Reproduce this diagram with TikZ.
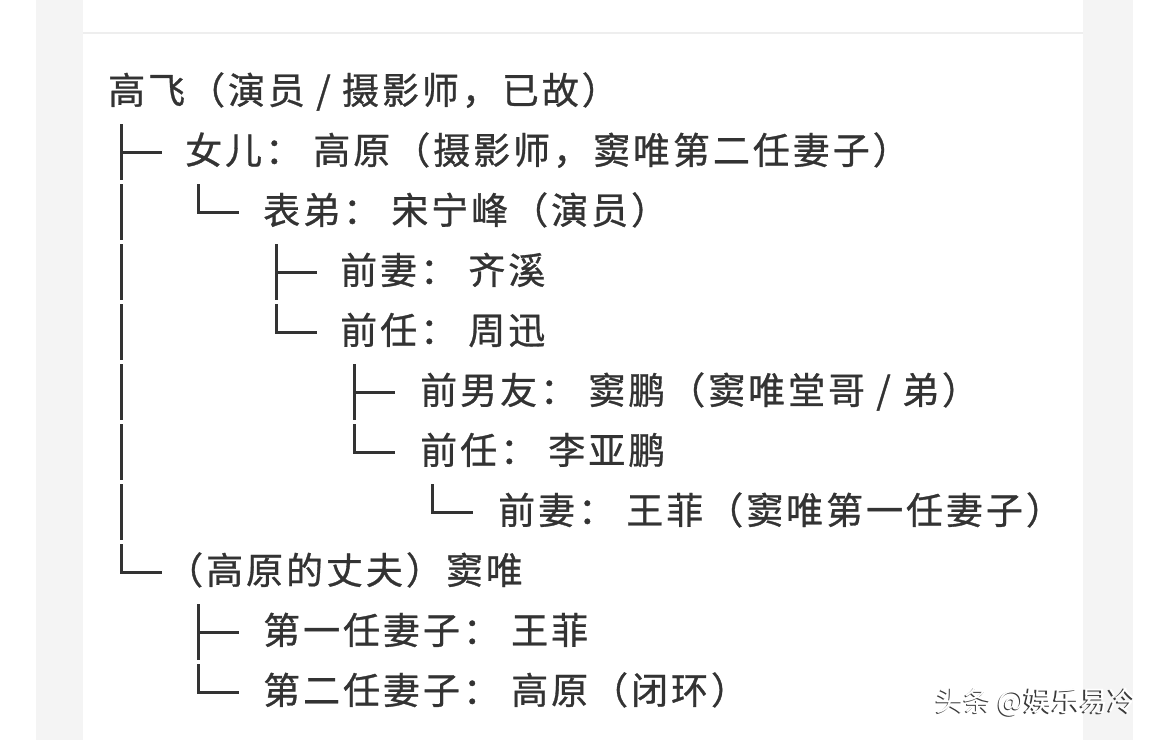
\documentclass[tikz,border=0pt]{standalone}
\usepackage{fontspec}
\newfontfamily\cjk[LetterSpace=8,FakeBold=0.8]{Noto Sans CJK SC}
\newfontfamily\wmfont{Noto Sans CJK SC}
\definecolor{ink}{HTML}{333333}
\definecolor{band}{HTML}{F4F4F4}
\definecolor{rule}{HTML}{EEEEEE}
\definecolor{shade}{HTML}{3A3A3A}
\tikzset{
  txt/.style={anchor=base west, inner sep=0pt, text=ink, font=\cjk\fontsize{37}{37}\selectfont},
  tree/.style={draw=ink, line width=3pt},
  wmark/.style={anchor=base west, inner sep=0pt, font=\wmfont\fontsize{28}{28}\selectfont}
}
\begin{document}
\begin{tikzpicture}[x=1pt,y=-1pt]
\useasboundingbox (0,0) rectangle (1170,740);
\fill[white] (0,0) rectangle (1170,740);
\fill[band] (36,0) rectangle (83,740);
\fill[band] (1083,0) rectangle (1133,740);
\draw[rule, line width=1.5pt] (83,33) -- (1083,33);

% text rows (row centre r = 91 + 60k, baseline = r + 13)
\node[txt] (n1)  at (108,104) {高飞（演员 / 摄影师，已故）};
\node[txt] (n2)  at (185,164) {女儿： 高原（摄影师，窦唯第二任妻子）};
\node[txt] (n3)  at (263,224) {表弟： 宋宁峰（演员）};
\node[txt] (n4)  at (340,284) {前妻： 齐溪};
\node[txt] (n5)  at (340,344) {前任： 周迅};
\node[txt] (n6)  at (420,404) {前男友： 窦鹏（窦唯堂哥 / 弟）};
\node[txt] (n7)  at (420,464) {前任： 李亚鹏};
\node[txt] (n8)  at (498,524) {前妻： 王菲（窦唯第一任妻子）};
\node[txt] (n9)  at (166,584) {（高原的丈夫）窦唯};
\node[txt] (n10) at (263,644) {第一任妻子： 王菲};
\node[txt] (n11) at (263,704) {第二任妻子： 高原（闭环）};

% tree glyphs: tee = ├, bar = │, ell = └
\newcommand{\teeg}[2]{\draw[tree] (#1,#2-27) -- (#1,#2+29); \draw[tree] (#1,#2+1) -- (#1+41,#2+1);}
\newcommand{\barg}[2]{\draw[tree] (#1,#2-27) -- (#1,#2+29);}
\newcommand{\ellg}[2]{\draw[tree] (#1,#2-27) -- (#1,#2+1) -- (#1+41,#2+1);}

\teeg{121}{151}
\foreach \r in {211,271,331,391,451,511} {\barg{121}{\r}}
\ellg{121}{571}

\ellg{198}{211}
\teeg{198}{631}
\ellg{198}{691}

\teeg{276}{271}
\ellg{276}{331}

\teeg{354}{391}
\ellg{354}{451}

\ellg{432}{511}

% watermark
\node[wmark, text=shade] (wms) at (934,712) {头条 @娱乐易冷};
\node[wmark, text=white] (wm) at (935.5,711) {头条 @娱乐易冷};
\end{tikzpicture}
\end{document}
